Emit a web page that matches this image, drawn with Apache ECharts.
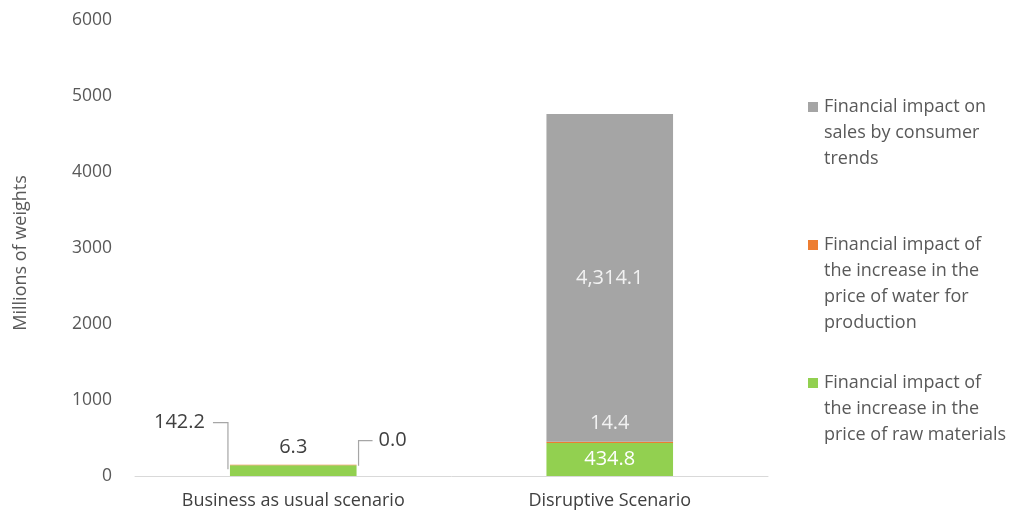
<!DOCTYPE html>
<html>
<head>
<meta charset="utf-8">
<script src="https://cdn.jsdelivr.net/npm/echarts@6/dist/echarts.min.js"></script>
<style>
  html, body { margin: 0; padding: 0; background: #fff; }
  #chart { width: 1015px; height: 514px; }
</style>
</head>
<body>
<div id="chart"></div>
<script>
// 数据
var categories = ["Business as usual scenario", "Disruptive Scenario"];
var seriesNames = [
  "Financial impact of\nthe increase in the\nprice of raw materials",
  "Financial impact of\nthe increase in the\nprice of water for\nproduction",
  "Financial impact on\nsales by consumer\ntrends"
];
var rawMaterials = [142.2, 434.8];
var waterPrice = [6.3, 14.4];
var consumerTrends = [0.0, 4314.1];
var yTicks = [0, 6000, 1000];

var colors = ["#92d050", "#ed7d31", "#a5a5a5"];
var font = "'Open Sans', sans-serif";
var textColor = "#595959";
var labelSize = 20;

function fmt(v) {
  return v.toLocaleString("en-US", { minimumFractionDigits: 1, maximumFractionDigits: 1 });
}

// legend 用 rich 文本，方块对齐第一行
var legendOrder = [seriesNames[2], seriesNames[1], seriesNames[0]];
function legendFormatter(name) {
  var idx = seriesNames.indexOf(name);
  var lines = name.split("\n");
  var str = "{s" + idx + "|}{g|}{t|" + lines[0] + "}";
  for (var i = 1; i < lines.length; i++) {
    str += "\n{p|}{t|" + lines[i] + "}";
  }
  if (lines.length === 3 && idx === 2) str += "\n{p|}{t| }";
  return str;
}

var chart = echarts.init(document.getElementById("chart"));

var option = {
  animation: false,
  textStyle: { fontFamily: font },
  grid: { left: 135, right: 247, top: 20, bottom: 38 },
  legend: {
    orient: "vertical",
    left: 798,
    top: 89,
    icon: "none",
    itemWidth: 0,
    itemHeight: 0,
    itemGap: 34,
    selectedMode: false,
    data: legendOrder,
    formatter: legendFormatter,
    textStyle: {
      fontFamily: font,
      fontSize: 18,
      color: textColor,
      lineHeight: 26,
      rich: {
        s0: { width: 10, height: 10, backgroundColor: colors[0] },
        s1: { width: 10, height: 10, backgroundColor: colors[1] },
        s2: { width: 10, height: 10, backgroundColor: colors[2] },
        g: { width: 6 },
        p: { width: 16 },
        t: { fontFamily: font, fontSize: 18, color: textColor, lineHeight: 26 }
      }
    }
  },
  xAxis: {
    type: "category",
    data: categories,
    axisLine: { lineStyle: { color: "#d9d9d9", width: 1 } },
    axisTick: { show: false },
    axisLabel: { color: "#404040", fontSize: 18, margin: 16, fontFamily: font }
  },
  yAxis: {
    type: "value",
    min: yTicks[0],
    max: yTicks[1],
    interval: yTicks[2],
    name: "Millions of weights",
    nameLocation: "middle",
    nameGap: 105,
    nameTextStyle: { color: textColor, fontSize: 18, fontFamily: font, padding: [0, 10, 0, 0] },
    axisLine: { show: false },
    axisTick: { show: false },
    splitLine: { show: false },
    axisLabel: {
      color: textColor, fontSize: 17.5, margin: 23, fontFamily: font,
      formatter: function (v) { return String(v); }
    }
  },
  series: [
    {
      name: seriesNames[0],
      type: "bar",
      stack: "total",
      barWidth: "40%",
      itemStyle: { color: colors[0] },
      data: [
        {
          value: rawMaterials[0],
          label: {
            show: true, position: "left", distance: 25, offset: [0, -48],
            color: "#404040", fontSize: labelSize
          }
        },
        {
          value: rawMaterials[1],
          label: { show: true, position: "inside", color: "#ffffff", fontSize: labelSize }
        }
      ],
      label: { formatter: function (p) { return fmt(p.value); }, fontFamily: font }
    },
    {
      name: seriesNames[1],
      type: "bar",
      stack: "total",
      itemStyle: { color: colors[1] },
      data: [
        {
          value: waterPrice[0],
          label: { show: true, position: "top", distance: 7, color: "#404040", fontSize: labelSize }
        },
        {
          value: waterPrice[1],
          label: { show: true, position: "top", distance: 9, color: "#f2f2f2", fontSize: labelSize }
        }
      ],
      label: { formatter: function (p) { return fmt(p.value); }, fontFamily: font }
    },
    {
      name: seriesNames[2],
      type: "bar",
      stack: "total",
      itemStyle: { color: colors[2] },
      data: [
        {
          value: consumerTrends[0],
          label: {
            show: true, position: "right", distance: 22, offset: [0, -24],
            color: "#404040", fontSize: labelSize
          }
        },
        {
          value: consumerTrends[1],
          label: { show: true, position: "inside", color: "#f2f2f2", fontSize: labelSize }
        }
      ],
      label: { formatter: function (p) { return fmt(p.value); }, fontFamily: font }
    }
  ]
};

chart.setOption(option);

// 引导线，通过坐标系换算
function drawLeaders() {
  var bandW = chart.getModel().getComponent("xAxis").axis.getBandWidth();
  var barW = bandW * 0.4;
  var c0 = chart.convertToPixel({ seriesIndex: 0 }, [0, 0]);
  var greenTop = chart.convertToPixel({ seriesIndex: 0 }, [0, rawMaterials[0]]);
  var stackTop = chart.convertToPixel({ seriesIndex: 0 }, [0, rawMaterials[0] + waterPrice[0] + consumerTrends[0]]);
  var barL = c0[0] - barW / 2;
  var barR = c0[0] + barW / 2;
  var midGreen = (c0[1] + greenTop[1]) / 2;
  var leftY = midGreen - 48;
  var rightY = stackTop[1] - 24;
  var lineStyle = { stroke: "#a6a6a6", lineWidth: 1.2, fill: null };
  chart.setOption({
    graphic: [
      {
        type: "polyline", silent: true,
        shape: { points: [[barL - 17, leftY], [barL - 2, leftY], [barL - 2, greenTop[1] + 4]] },
        style: lineStyle
      },
      {
        type: "polyline", silent: true,
        shape: { points: [[barR + 16, rightY], [barR + 2, rightY], [barR + 2, stackTop[1] + 1]] },
        style: lineStyle
      }
    ]
  });
}
drawLeaders();

window.addEventListener("resize", function () {
  chart.resize();
  drawLeaders();
});
</script>
</body>
</html>
